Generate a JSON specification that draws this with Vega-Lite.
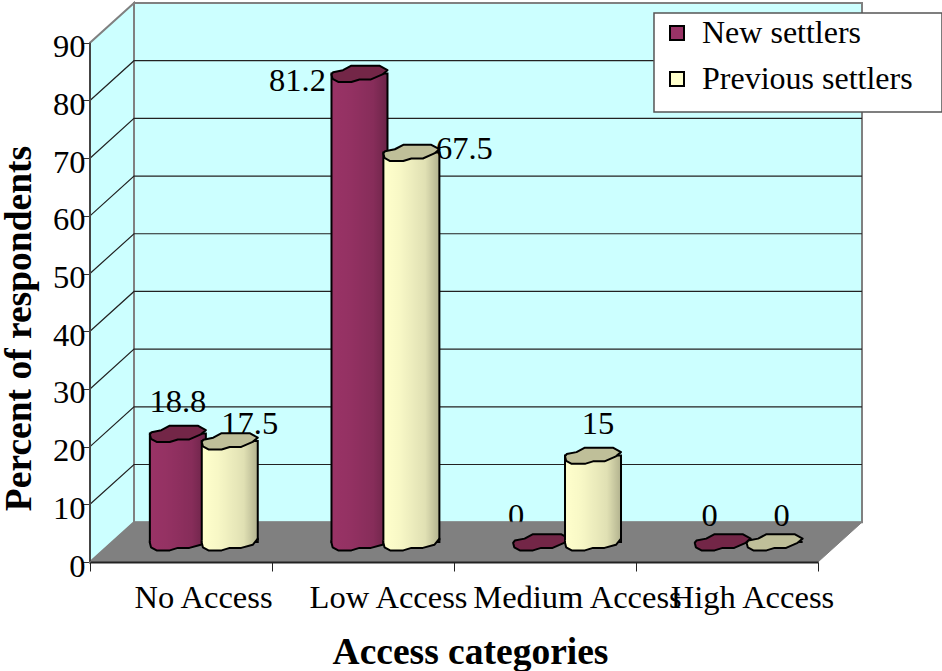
{
"$schema":"https://vega.github.io/schema/vega-lite/v6.json",
"width":772,"height":559,
"autosize":{"type":"none"},
"padding":{"left":90,"top":3,"right":80,"bottom":109},
"background":"white",
"config":{"view":{"stroke":null},"font":"Liberation Serif"},
"datasets":{"bars":[
{"category":"No Access","series":"New settlers","value":18.8},
{"category":"No Access","series":"Previous settlers","value":17.5},
{"category":"Low Access","series":"New settlers","value":81.2},
{"category":"Low Access","series":"Previous settlers","value":67.5},
{"category":"Medium Access","series":"New settlers","value":0},
{"category":"Medium Access","series":"Previous settlers","value":15},
{"category":"High Access","series":"New settlers","value":0},
{"category":"High Access","series":"Previous settlers","value":0}
]},
"layer":[
{"encoding":{
  "x":{"field":"px","type":"quantitative","scale":{"domain":[0,4.2418]},"axis":null},
  "y":{"field":"py","type":"quantitative","scale":{"domain":[0,96.9]},"axis":{"values":[0,10,20,30,40,50,60,70,80,90],"domain":false,"grid":false,"tickSize":8,"tickColor":"#333333","tickWidth":1,"labelFontSize":32.5,"labelColor":"black","labelPadding":-3,"labelOffset":4,"labelBound":false,"labelFlush":false,"labelOverlap":false,"title":"Percent of respondents","titleFontSize":37.5,"titleFontWeight":"bold","titleColor":"black","titleX":-71,"titleY":325,"titleAngle":-90,"titleBaseline":"middle","titleAlign":"center"}}
 },
 "layer":[
 {"data":{"values":[{"px":0.2418,"px2":4.2418,"py":6.9,"py2":96.9}]},
  "mark":{"type":"rect","fill":"#CCFFFF","stroke":"#808080","strokeWidth":2},
  "encoding":{"x2":{"field":"px2"},"y2":{"field":"py2"}}},
 {"data":{"values":[{"px":0,"py":0,"py2":90},{"px":0.2418,"py":6.9,"py2":96.9}]},
  "mark":{"type":"area","fill":"#CCFFFF","stroke":"#808080","strokeWidth":2},
  "encoding":{"y2":{"field":"py2"}}},
 {"data":{"values":[
  {"level":10,"px":0,"py":10},{"level":10,"px":0.2418,"py":16.9},{"level":10,"px":4.2418,"py":16.9},
  {"level":20,"px":0,"py":20},{"level":20,"px":0.2418,"py":26.9},{"level":20,"px":4.2418,"py":26.9},
  {"level":30,"px":0,"py":30},{"level":30,"px":0.2418,"py":36.9},{"level":30,"px":4.2418,"py":36.9},
  {"level":40,"px":0,"py":40},{"level":40,"px":0.2418,"py":46.9},{"level":40,"px":4.2418,"py":46.9},
  {"level":50,"px":0,"py":50},{"level":50,"px":0.2418,"py":56.9},{"level":50,"px":4.2418,"py":56.9},
  {"level":60,"px":0,"py":60},{"level":60,"px":0.2418,"py":66.9},{"level":60,"px":4.2418,"py":66.9},
  {"level":70,"px":0,"py":70},{"level":70,"px":0.2418,"py":76.9},{"level":70,"px":4.2418,"py":76.9},
  {"level":80,"px":0,"py":80},{"level":80,"px":0.2418,"py":86.9},{"level":80,"px":4.2418,"py":86.9}
  ]},
  "mark":{"type":"line","color":"#222222","strokeWidth":1.2},
  "encoding":{"detail":{"field":"level"}}},
 {"data":{"values":[{"px":0,"py":0,"py2":90}]},
  "mark":{"type":"rule","color":"#444444","strokeWidth":2},
  "encoding":{"y2":{"field":"py2"}}},
 {"data":{"values":[{"px":3.0989,"px2":4.6813,"py":95.15,"py2":77.99}]},
  "mark":{"type":"rect","fill":"white","stroke":"#555555","strokeWidth":1.5},
  "encoding":{"x2":{"field":"px2"},"y2":{"field":"py2"}}}
 ]},
{"data":{"name":"bars"},
 "transform":[{"filter":"datum.category==='Medium Access'&&datum.series==='New settlers'"}],
 "mark":{"type":"text","fontSize":32.5,"color":"black","dx":-25,"dy":-26},
 "encoding":{
  "x":{"field":"category","type":"nominal","sort":null,"scale":{"domain":["No Access","Low Access","Medium Access","High Access"],"range":[23,749.5],"paddingInner":0,"paddingOuter":0},"axis":null},
  "xOffset":{"field":"series","type":"nominal","scale":{"domain":["New settlers","Previous settlers"],"paddingInner":0,"paddingOuter":0.75}},
  "y":{"field":"value","type":"quantitative","scale":{"domain":[0,96.9],"range":[539,-20]},"axis":null},
  "text":{"field":"value","type":"quantitative"}}},
{"data":{"values":[{"px":0,"py":0,"py2":0},{"px":0.2418,"py":6.9,"py2":0},{"px":4,"py":6.9,"py2":0},{"px":4.2418,"py":6.9,"py2":6.9}]},
 "mark":{"type":"area","fill":"#808080","stroke":"#808080","strokeWidth":1},
 "encoding":{
  "x":{"field":"px","type":"quantitative","scale":{"domain":[0,4.2418]},"axis":null},
  "y":{"field":"py","type":"quantitative","scale":{"domain":[0,96.9]},"axis":null},
  "y2":{"field":"py2"}}},
{"data":{"name":"bars"},
 "mark":{"type":"bar","opacity":0},
 "encoding":{
  "x":{"field":"category","type":"nominal","sort":null,"scale":{"domain":["No Access","Low Access","Medium Access","High Access"],"range":[0,728],"paddingInner":0,"paddingOuter":0},
   "axis":{"title":"Access categories","titleFontSize":37.5,"titleFontWeight":"bold","titleColor":"black","titleX":380,"titleY":90,"titleBaseline":"middle","titleAlign":"center","labelAngle":0,"labelFontSize":32.5,"labelColor":"black","labelPadding":10,"labelOffset":25,"labelOverlap":false,"labelLimit":400,"labelBound":false,"labelFlush":false,"tickBand":"extent","tickSize":9,"tickColor":"#222222","tickWidth":1,"domainColor":"#222222","domainWidth":2,"zindex":1,"encoding":{"labels":{"dx":{"value":{"expr":"datum.value==='Medium Access'?7:datum.value==='No Access'?-3:0"}}}}}},
  "y":{"field":"value","type":"quantitative","scale":{"domain":[0,96.9]},"axis":null}}},
{"data":{"name":"bars"},
 "encoding":{
  "x":{"field":"category","type":"nominal","sort":null,"scale":{"domain":["No Access","Low Access","Medium Access","High Access"],"range":[23,749.5],"paddingInner":0,"paddingOuter":0},"axis":null},
  "xOffset":{"field":"series","type":"nominal","scale":{"domain":["New settlers","Previous settlers"],"paddingInner":0,"paddingOuter":0.75}},
  "y":{"field":"value","type":"quantitative","stack":null,"scale":{"domain":[0,96.9],"range":[539,-20]},"axis":null}
 },
 "layer":[
 {"transform":[{"filter":"datum.series==='New settlers'"}],
  "mark":{"type":"bar","width":56},
  "encoding":{"color":{"field":"series","type":"nominal","scale":{"domain":["New settlers","Previous settlers"],"range":["#993366","#FFFFCC"]},
   "legend":{"title":null,"orient":"none","legendX":571,"legendY":14,"padding":0,"symbolType":"square","symbolSize":196,"symbolStrokeColor":"black","symbolStrokeWidth":2,"symbolOpacity":1,"labelFontSize":32,"labelColor":"black","labelOffset":9,"labelLimit":400,"rowPadding":14}}}},
 {"transform":[{"filter":"datum.series==='New settlers'"}],
  "mark":{"type":"bar","width":56,"stroke":"black","strokeWidth":2,"fill":{"gradient":"linear","x1":0,"x2":1,"y1":0,"y2":0,"stops":[{"offset":0,"color":"rgba(0,0,0,0)"},{"offset":0.3,"color":"rgba(0,0,0,0.03)"},{"offset":0.75,"color":"rgba(0,0,0,0.12)"},{"offset":1,"color":"rgba(0,0,0,0.3)"}]}}},
 {"transform":[{"filter":"datum.series==='New settlers'&&datum.value>0"}],
  "mark":{"type":"point","filled":true,"opacity":1,"size":3136,"shape":"M-1,-0.06 L-1,0.03 L-0.96,0.19 L-0.76,0.3 L-0.29,0.3 L0,0.21 L0.41,0.21 L0.82,0.1 L1,-0.12 L1,-0.06","stroke":"black","strokeWidth":2,"strokeJoin":"round","fill":{"gradient":"linear","x1":0,"x2":1,"y1":0,"y2":0,"stops":[{"offset":0,"color":"#993366"},{"offset":0.3,"color":"#943263"},{"offset":0.75,"color":"#872d5a"},{"offset":1,"color":"#6b2347"}]}},
  "encoding":{"y":{"datum":0,"type":"quantitative","scale":{"domain":[0,96.9],"range":[539,-20]},"axis":null}}},
 {"transform":[{"filter":"datum.series==='New settlers'"}],
  "mark":{"type":"point","filled":true,"opacity":1,"size":3136,"shape":"M-1,0.03 L-0.94,-0.05 L-0.59,-0.12 L-0.29,-0.28 L0.71,-0.28 L1,-0.12 L0.82,0.03 L0.41,0.21 L0,0.21 L-0.29,0.3 L-0.76,0.3 L-0.96,0.19 Z","stroke":"black","strokeWidth":2,"strokeJoin":"round","fill":"#732647"}},
 {"transform":[{"filter":"datum.series==='Previous settlers'"}],
  "mark":{"type":"bar","width":56},
  "encoding":{"color":{"field":"series","type":"nominal","scale":{"domain":["New settlers","Previous settlers"],"range":["#993366","#FFFFCC"]}}}},
 {"transform":[{"filter":"datum.series==='Previous settlers'"}],
  "mark":{"type":"bar","width":56,"stroke":"black","strokeWidth":2,"fill":{"gradient":"linear","x1":0,"x2":1,"y1":0,"y2":0,"stops":[{"offset":0,"color":"rgba(0,0,0,0)"},{"offset":0.3,"color":"rgba(0,0,0,0.03)"},{"offset":0.75,"color":"rgba(0,0,0,0.12)"},{"offset":1,"color":"rgba(0,0,0,0.3)"}]}}},
 {"transform":[{"filter":"datum.series==='Previous settlers'&&datum.value>0"}],
  "mark":{"type":"point","filled":true,"opacity":1,"size":3136,"shape":"M-1,-0.06 L-1,0.03 L-0.96,0.19 L-0.76,0.3 L-0.29,0.3 L0,0.21 L0.41,0.21 L0.82,0.1 L1,-0.12 L1,-0.06","stroke":"black","strokeWidth":2,"strokeJoin":"round","fill":{"gradient":"linear","x1":0,"x2":1,"y1":0,"y2":0,"stops":[{"offset":0,"color":"#FFFFCC"},{"offset":0.3,"color":"#f7f7c6"},{"offset":0.75,"color":"#e0e0b3"},{"offset":1,"color":"#b3b38f"}]}},
  "encoding":{"y":{"datum":0,"type":"quantitative","scale":{"domain":[0,96.9],"range":[539,-20]},"axis":null}}},
 {"transform":[{"filter":"datum.series==='Previous settlers'"}],
  "mark":{"type":"point","filled":true,"opacity":1,"size":3136,"shape":"M-1,0.03 L-0.94,-0.05 L-0.59,-0.12 L-0.29,-0.28 L0.71,-0.28 L1,-0.12 L0.82,0.03 L0.41,0.21 L0,0.21 L-0.29,0.3 L-0.76,0.3 L-0.96,0.19 Z","stroke":"black","strokeWidth":2,"strokeJoin":"round","fill":"#BFBF99"}},
 {"transform":[{"filter":"datum.category==='No Access'&&datum.series==='New settlers'"}],"mark":{"type":"text","fontSize":32.5,"color":"black","dx":0,"dy":-32},"encoding":{"text":{"field":"value","type":"quantitative"}}},
 {"transform":[{"filter":"datum.category==='No Access'&&datum.series==='Previous settlers'"}],"mark":{"type":"text","fontSize":32.5,"color":"black","dx":20,"dy":-17},"encoding":{"text":{"field":"value","type":"quantitative"}}},
 {"transform":[{"filter":"datum.category==='Low Access'&&datum.series==='New settlers'"}],"mark":{"type":"text","fontSize":32.5,"color":"black","dx":-62,"dy":7},"encoding":{"text":{"field":"value","type":"quantitative"}}},
 {"transform":[{"filter":"datum.category==='Low Access'&&datum.series==='Previous settlers'"}],"mark":{"type":"text","fontSize":32.5,"color":"black","dx":53,"dy":-4},"encoding":{"text":{"field":"value","type":"quantitative"}}},
 {"transform":[{"filter":"datum.category==='Medium Access'&&datum.series==='Previous settlers'"}],"mark":{"type":"text","fontSize":32.5,"color":"black","dx":5,"dy":-31},"encoding":{"text":{"field":"value","type":"quantitative"}}},
 {"transform":[{"filter":"datum.category==='High Access'&&datum.series==='New settlers'"}],"mark":{"type":"text","fontSize":32.5,"color":"black","dx":-13,"dy":-26},"encoding":{"text":{"field":"value","type":"quantitative"}}},
 {"transform":[{"filter":"datum.category==='High Access'&&datum.series==='Previous settlers'"}],"mark":{"type":"text","fontSize":32.5,"color":"black","dx":7,"dy":-26},"encoding":{"text":{"field":"value","type":"quantitative"}}}
 ]}
],
"resolve":{"scale":{"x":"independent","y":"independent"},"axis":{"x":"independent","y":"independent"}}
}
